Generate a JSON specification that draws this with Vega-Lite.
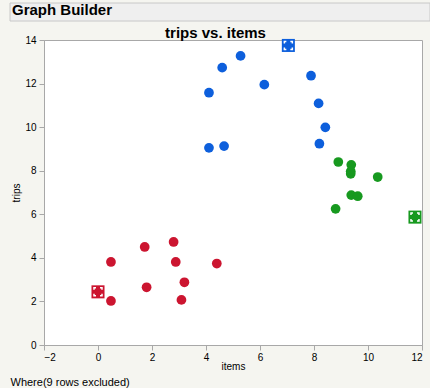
{
  "$schema": "https://vega.github.io/schema/vega-lite/v6.json",
  "autosize": "none",
  "width": 378,
  "height": 305,
  "padding": {"left": 44, "top": 40, "right": 8, "bottom": 43},
  "background": "#F5F5F0",
  "view": {"fill": "#FFFFFF", "stroke": "#A8A8A8"},
  "config": {
    "font": "Liberation Sans",
    "title": {"font": "Liberation Sans", "color": "#000000"},
    "axis": {
      "labelFont": "Liberation Sans", "titleFont": "Liberation Sans",
      "labelColor": "#000000", "titleColor": "#000000",
      "labelFontSize": 10, "titleFontSize": 10, "titleFontWeight": "normal",
      "domainColor": "#A8A8A8", "tickColor": "#A8A8A8", "tickSize": 5,
      "grid": false
    },
    "legend": {"titleFont": "Liberation Sans", "labelFont": "Liberation Sans"}
  },
  "data": {"values": [
    {"items": 0.0, "trips": 2.44, "group": "1", "selected": true},
    {"items": 0.48, "trips": 2.02, "group": "1", "selected": false},
    {"items": 0.48, "trips": 3.81, "group": "1", "selected": false},
    {"items": 1.73, "trips": 4.50, "group": "1", "selected": false},
    {"items": 1.80, "trips": 2.65, "group": "1", "selected": false},
    {"items": 2.80, "trips": 4.73, "group": "1", "selected": false},
    {"items": 2.88, "trips": 3.81, "group": "1", "selected": false},
    {"items": 3.20, "trips": 2.88, "group": "1", "selected": false},
    {"items": 3.09, "trips": 2.07, "group": "1", "selected": false},
    {"items": 4.40, "trips": 3.74, "group": "1", "selected": false},
    {"items": 7.05, "trips": 13.75, "group": "2", "selected": true},
    {"items": 5.28, "trips": 13.27, "group": "2", "selected": false},
    {"items": 4.60, "trips": 12.73, "group": "2", "selected": false},
    {"items": 6.16, "trips": 11.95, "group": "2", "selected": false},
    {"items": 7.89, "trips": 12.36, "group": "2", "selected": false},
    {"items": 8.17, "trips": 11.09, "group": "2", "selected": false},
    {"items": 8.42, "trips": 9.99, "group": "2", "selected": false},
    {"items": 8.20, "trips": 9.24, "group": "2", "selected": false},
    {"items": 4.67, "trips": 9.13, "group": "2", "selected": false},
    {"items": 4.11, "trips": 11.58, "group": "2", "selected": false},
    {"items": 4.11, "trips": 9.05, "group": "2", "selected": false},
    {"items": 8.90, "trips": 8.40, "group": "3", "selected": false},
    {"items": 9.38, "trips": 8.27, "group": "3", "selected": false},
    {"items": 9.36, "trips": 7.97, "group": "3", "selected": false},
    {"items": 9.36, "trips": 7.86, "group": "3", "selected": false},
    {"items": 10.36, "trips": 7.71, "group": "3", "selected": false},
    {"items": 9.38, "trips": 6.88, "group": "3", "selected": false},
    {"items": 9.62, "trips": 6.83, "group": "3", "selected": false},
    {"items": 8.80, "trips": 6.25, "group": "3", "selected": false},
    {"items": 11.74, "trips": 5.87, "group": "3", "selected": true}
  ]},
  "resolve": {"axis": {"x": "independent", "y": "independent"}},
  "layer": [
    {
      "mark": {"type": "circle", "size": 95, "opacity": 1, "strokeWidth": 0},
      "encoding": {
        "x": {"field": "items", "type": "quantitative",
              "scale": {"domain": [-2, 12], "nice": false, "zero": false},
              "axis": {"values": [-2, 0, 2, 4, 6, 8, 10, 12], "title": "items", "labelPadding": 2, "titlePadding": -1}},
        "y": {"field": "trips", "type": "quantitative",
              "scale": {"domain": [0, 14], "nice": false},
              "axis": {"values": [0, 2, 4, 6, 8, 10, 12, 14], "title": "trips", "labelPadding": 3, "titlePadding": 3}},
        "color": {"field": "group", "type": "nominal",
                  "scale": {"domain": ["1", "2", "3"], "range": ["#CC1530", "#0D5FDC", "#17991F"]},
                  "legend": null},
        "stroke": {"field": "trips", "type": "quantitative",
                   "scale": {"range": ["#EFEFEF", "#EFEFEF"]},
                   "legend": {"orient": "none", "legendX": -32, "legendY": -37, "direction": "horizontal",
                              "gradientLength": 420, "gradientThickness": 18,
                              "gradientStrokeColor": "#C8C8C8", "gradientStrokeWidth": 1,
                              "labelExpr": "''", "labelOpacity": 0, "labelFontSize": 1, "labelOffset": 0,
                              "title": "Graph Builder", "titleOrient": "left", "titlePadding": -103,
                              "titleAnchor": "start",
                              "titleFontSize": 15, "titleFontWeight": "bold", "titleColor": "#000000",
                              "titleBaseline": "top", "padding": 0}}
      }
    },
    {
      "transform": [{"filter": "datum.selected"}],
      "mark": {"type": "square", "size": 170, "opacity": 1},
      "encoding": {
        "x": {"field": "items", "type": "quantitative",
              "axis": {"orient": "top", "labels": false, "ticks": false, "domain": false,
                       "title": "trips vs. items", "titleFontSize": 15, "titleFontWeight": "bold",
                       "titleX": 171, "titleY": -8, "titleBaseline": "middle", "titleAlign": "center"}},
        "y": {"field": "trips", "type": "quantitative",
              "axis": {"orient": "right", "labels": false, "ticks": false, "domain": false,
                       "title": "Where(9 rows excluded)", "titleFontSize": 11, "titleAngle": 0,
                       "titleX": -412, "titleY": 342, "titleAlign": "left", "titleBaseline": "middle"}},
        "color": {"field": "group", "type": "nominal", "legend": null}
      }
    },
    {
      "transform": [{"filter": "datum.selected"}],
      "mark": {"type": "point", "shape": "square", "size": 64, "filled": false, "opacity": 1,
               "stroke": "#FFFFFF", "strokeWidth": 1.5, "strokeDash": [4, 4], "strokeDashOffset": 2},
      "encoding": {
        "x": {"field": "items", "type": "quantitative", "axis": null},
        "y": {"field": "trips", "type": "quantitative", "axis": null}
      }
    }
  ]
}
